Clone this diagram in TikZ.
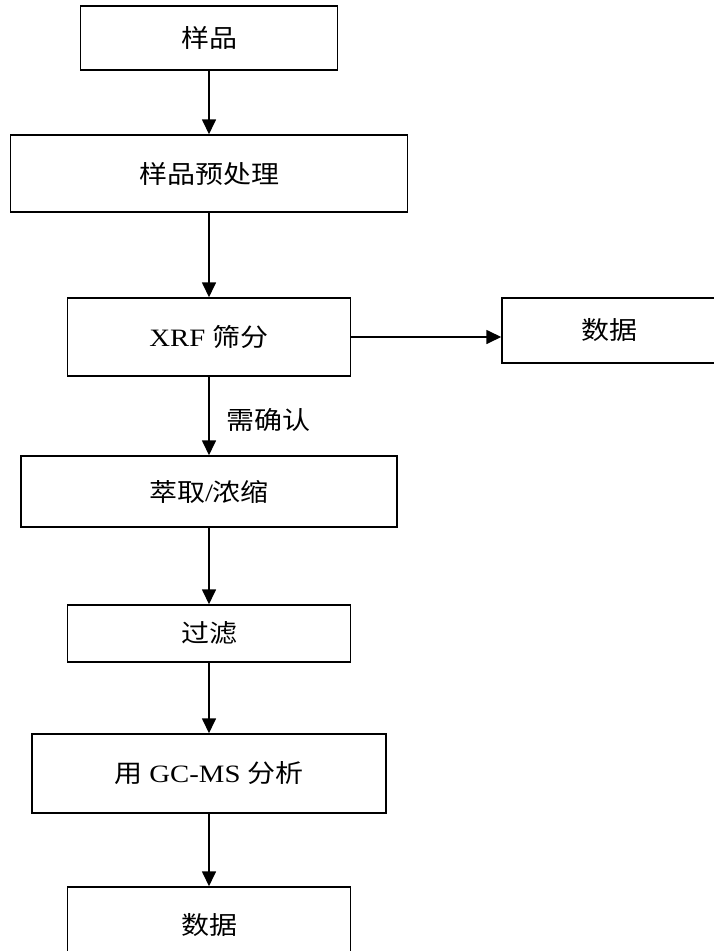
\documentclass[tikz,border=0pt]{standalone}
\usepackage{fontspec}
\setmainfont{Liberation Serif}[FakeStretch=1.15]
\newfontfamily\cjk{Noto Sans CJK SC}[FakeStretch=1.12]
\usetikzlibrary{arrows.meta}
\begin{document}
\begin{tikzpicture}[x=1pt,y=-1pt,
  box/.style={draw, line width=1.5pt, inner sep=0pt, font=\fontsize{25}{29}\selectfont},
  lbl/.style={inner sep=0pt, font=\fontsize{25}{29}\selectfont},
  arr/.style={line width=1.7pt, -{Triangle[length=15pt,width=14pt]}}]
\useasboundingbox[fill=white] (0,0) rectangle (713,951);
\node[box, minimum width=257pt, minimum height=64pt] (s1) at (209,38) {\cjk 样品};
\node[box, minimum width=397pt, minimum height=77pt] (s2) at (209,173.5) {\cjk 样品预处理};
\node[box, minimum width=283pt, minimum height=78pt] (xrf) at (209,337) {XRF {\cjk 筛分}};
\node[box, minimum width=214pt, minimum height=65pt] (d1) at (609,330.5) {\cjk 数据};
\node[box, minimum width=376pt, minimum height=71pt] (ext) at (209,491.5) {{\cjk 萃取}/{\cjk 浓缩}};
\node[box, minimum width=283pt, minimum height=57pt] (flt) at (209,633.5) {\cjk 过滤};
\node[box, minimum width=354pt, minimum height=79pt] (gc) at (209,773.5) {{\cjk 用} GC-MS {\cjk 分析}};
\node[box, minimum width=283pt, minimum height=76pt] (d2) at (209,925) {\cjk 数据};
\node[lbl, anchor=west] (lab) at (226,420) {\cjk 需确认};
\draw[arr] (s1.south) -- (s2.north);
\draw[arr] (s2.south) -- (xrf.north);
\draw[arr] (xrf.east) -- (xrf.east -| d1.west);
\draw[arr] (xrf.south) -- (ext.north);
\draw[arr] (ext.south) -- (flt.north);
\draw[arr] (flt.south) -- (gc.north);
\draw[arr] (gc.south) -- (d2.north);
\end{tikzpicture}
\end{document}
